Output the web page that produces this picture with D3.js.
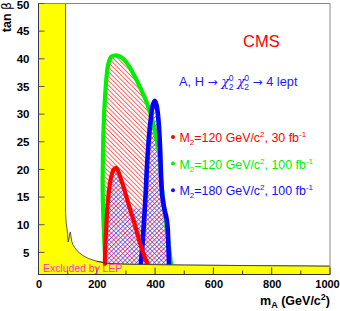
<!DOCTYPE html>
<html><head><meta charset="utf-8">
<script src="https://cdn.jsdelivr.net/npm/d3@7"></script>
<style>
html,body{margin:0;padding:0;background:#fff;}
svg{display:block;font-family:"Liberation Sans",Arial,Helvetica,sans-serif;}
</style></head>
<body>
<script>
// ---- data ----
const xTicks = [0, 200, 400, 600, 800, 1000];
const xMinorTicks = [100, 300, 500, 700, 900];
const yTicks = [5, 10, 15, 20, 25, 30, 35, 40, 45, 50];
// LEP excluded region boundary [mA, tanb]
const lepBoundary = [[93,50],[93,12],[95,10.4],[98,9.2],[100,8.3],[102,6.9],[104,7.3],[107,8.4],[109,8.7],[111,8.1],[114,7.0],[118,6.4],[125,5.8],[136,5.1],[150,4.5],[171,3.9],[200,3.4],[238,3.0],[300,2.85],[500,2.7],[1000,2.5]];
// M2=120, 100 fb-1 (green)
const green100 = [[229,2.6],[229,3.5],[225,8],[221,14],[220,18],[221,22],[223,27],[227,32],[233,36.5],[240,39.2],[250,40.4],[262,40.6],[275,40.5],[291,40.0],[308,38.9],[325,37.3],[340,35.8],[354,34.2],[367,32.7],[377,31.2],[388,29.4],[396,27.7],[405,25.4],[411,23.8],[417,21.2],[422,17.5],[428,14.5],[435,11.5],[442,8.5],[449,5.5],[454,3.2],[457,2.6]];
// M2=120, 30 fb-1 (red)
const red30 = [[228,2.6],[228,4],[230,7],[233,10],[237,13.5],[242,16.2],[250,18.8],[258,20],[266,20.3],[274,19.6],[283,18.2],[293,16.6],[302,15],[313,13],[325,11],[337,8.8],[348,6.7],[360,4.8],[370,3.4],[377,2.6]];
// M2=180, 100 fb-1 (blue)
const blue100 = [[350,2.6],[352,3.5],[357,6.6],[363,11.5],[368,16],[371,19.5],[375,23],[380,26.5],[386,29.5],[392,31.6],[399,32.4],[405,31.6],[410,29.8],[414,27],[417,24],[419,21],[421,18],[425,15],[432,12.8],[439,11.2],[443,9.5],[445,7],[447,4],[448,2.6]];
// region with second hatch (union of red and blue areas)
const crossRegion = [[228,2.6],[228,4],[230,7],[233,10],[237,13.5],[242,16.2],[250,18.8],[258,20],[266,20.3],[274,19.6],[283,18.2],[293,16.6],[302,15],[313,13],[340,13],[365,13],[368,16],[371,19.5],[375,23],[380,26.5],[386,29.5],[392,31.6],[399,32.4],[405,31.6],[410,29.8],[414,27],[417,24],[419,21],[421,18],[425,15],[432,12.8],[439,11.2],[443,9.5],[445,7],[447,4],[448,2.6]];
const legendLabels = [
  {m: "120", lumi: "30", color: "#ff0000"},
  {m: "120", lumi: "100", color: "#00ee00"},
  {m: "180", lumi: "100", color: "#1010ff"}
];

// ---- layout ----
const W = 340, H = 311;
const x = d3.scaleLinear().domain([0, 1000]).range([38.5, 330]);
const y = d3.scaleLinear().domain([1, 50]).range([274.5, 3.5]);

const svg = d3.select("body").append("svg").attr("width", W).attr("height", H);
const defs = svg.append("defs");
defs.append("clipPath").attr("id", "plotclip").append("rect")
  .attr("x", x(0)).attr("y", y(50)).attr("width", x(1000) - x(0)).attr("height", y(1) - y(50));

function hatch(id, color, angle) {
  const p = defs.append("pattern").attr("id", id).attr("patternUnits", "userSpaceOnUse")
    .attr("width", 3.2).attr("height", 3.2).attr("patternTransform", `rotate(${angle})`);
  p.append("line").attr("x1", 0.5).attr("y1", -1).attr("x2", 0.5).attr("y2", 5)
    .attr("stroke", color).attr("stroke-width", 0.7);
}
hatch("hRed", "#ff2020", -45);
hatch("hBlue", "#3030ff", 45);

const line = d3.line().x(d => x(d[0])).y(d => y(d[1])).curve(d3.curveCatmullRom.alpha(0.5));
const lin = d3.line().x(d => x(d[0])).y(d => y(d[1])).curve(d3.curveLinear);

const g = svg.append("g").attr("clip-path", "url(#plotclip)");

// LEP region
const lepPoly = [[0, 50], ...lepBoundary, [1000, 1], [0, 1]];
g.append("path").attr("d", lin(lepPoly)).attr("fill", "#ffff00").attr("stroke", "none");
g.append("path").attr("d", lin(lepBoundary))
  .attr("fill", "none").attr("stroke", "#333").attr("stroke-width", 0.8);

// hatches
g.append("path").attr("d", line(green100) + "Z").attr("fill", "url(#hRed)");
g.append("path").attr("d", line(crossRegion) + "Z").attr("fill", "url(#hBlue)");

// contour lines
g.append("path").attr("d", line(green100)).attr("fill", "none").attr("stroke", "#00ee00").attr("stroke-width", 4.2).attr("stroke-linejoin", "round");
g.append("path").attr("d", line(blue100)).attr("fill", "none").attr("stroke", "#0000ff").attr("stroke-width", 4.6).attr("stroke-linejoin", "round");
g.append("path").attr("d", line(red30)).attr("fill", "none").attr("stroke", "#ff0000").attr("stroke-width", 4.2).attr("stroke-linejoin", "round");

// redraw bottom band over contour ends
const band = [[238,3.0],[300,2.85],[500,2.7],[1000,2.5],[1000,1],[200,1]];
g.append("path").attr("d", lin(band)).attr("fill", "#ffff00");
g.append("path").attr("d", lin(lepBoundary.filter(d => d[0] >= 200)))
  .attr("fill", "none").attr("stroke", "#333").attr("stroke-width", 0.8);

// frame
svg.append("rect").attr("x", x(0)).attr("y", y(50)).attr("width", x(1000) - x(0)).attr("height", y(1) - y(50))
  .attr("fill", "none").attr("stroke", "#888").attr("stroke-width", 1);
svg.append("line").attr("x1", x(0)).attr("x2", x(0)).attr("y1", y(50)).attr("y2", y(1)).attr("stroke", "#333366").attr("stroke-width", 1);
svg.append("line").attr("x1", x(0)).attr("x2", x(1000)).attr("y1", y(1)).attr("y2", y(1)).attr("stroke", "#333").attr("stroke-width", 1);

// axes
const xAxis = d3.axisBottom(x).tickValues(xTicks).tickSize(0).tickPadding(6).tickFormat(d3.format("d"));
const xa = svg.append("g").attr("transform", `translate(0,${y(1)})`).call(xAxis);
xa.select(".domain").remove();
xa.selectAll("text").attr("font-size", 11).attr("font-weight", "bold").attr("fill", "#000").attr("font-family", "Liberation Sans, Arial, sans-serif")
  .attr("dx", d => d === 1000 ? -3 : 0);
svg.append("g").selectAll("line").data(xTicks.concat(xMinorTicks)).join("line")
  .attr("x1", d => x(d)).attr("x2", d => x(d)).attr("y1", y(1))
  .attr("y2", d => y(1) - (xTicks.includes(d) ? 7 : 4)).attr("stroke", "#333").attr("stroke-width", 1);

const yAxis = d3.axisLeft(y).tickValues(yTicks).tickSize(0).tickPadding(9).tickFormat(d3.format("d"));
const ya = svg.append("g").attr("transform", `translate(${x(0)},0)`).call(yAxis);
ya.select(".domain").remove();
ya.selectAll("text").attr("font-size", 11.5).attr("font-weight", "bold").attr("fill", "#000").attr("font-family", "Liberation Sans, Arial, sans-serif")
  .attr("y", d => d === 50 ? 1.5 : 0);
svg.append("g").selectAll("line").data(yTicks).join("line")
  .attr("x1", x(0)).attr("x2", x(0) + 6).attr("y1", d => y(d)).attr("y2", d => y(d))
  .attr("stroke", "#555").attr("stroke-width", 1);

// axis titles
const yt = svg.append("text").attr("transform", "translate(11,2) rotate(-90)").attr("text-anchor", "end")
  .attr("font-size", 12.5).attr("font-weight", "bold");
yt.append("tspan").text("tan ");
yt.append("tspan").attr("font-family", "DejaVu Sans").attr("font-weight", "normal").text("β");

const xt = svg.append("text").attr("x", 330).attr("y", 305).attr("text-anchor", "end").attr("font-size", 12.5).attr("font-weight", "bold");
xt.append("tspan").text("m");
xt.append("tspan").attr("font-size", 9).attr("dy", 3).text("A");
xt.append("tspan").attr("dy", -3).text(" (GeV/c");
xt.append("tspan").attr("font-size", 9).attr("dy", -5).text("2");
xt.append("tspan").attr("dy", 5).text(")");

// labels
svg.append("text").attr("x", 243).attr("y", 47).attr("font-size", 16.5).attr("fill", "#ff0000").text("CMS");

const pr = svg.append("text").attr("x", 179).attr("y", 86).attr("font-size", 12.8).attr("fill", "#1a1aff");
pr.append("tspan").text("A, H ");
pr.append("tspan").attr("font-family", "DejaVu Sans").attr("font-size", 12).text("→ ");
pr.append("tspan").attr("font-family", "DejaVu Serif").attr("font-style", "italic").attr("font-size", 13).text("χ");
pr.append("tspan").attr("font-size", 8.5).attr("dx", -0.5).attr("dy", -5.5).text("0");
pr.append("tspan").attr("font-size", 8.5).attr("dx", -4.8).attr("dy", 9).text("2");
pr.append("tspan").attr("dy", -3.5).text(" ");
pr.append("tspan").attr("font-family", "DejaVu Serif").attr("font-style", "italic").attr("font-size", 13).text("χ");
pr.append("tspan").attr("font-size", 8.5).attr("dx", -0.5).attr("dy", -5.5).text("0");
pr.append("tspan").attr("font-size", 8.5).attr("dx", -4.8).attr("dy", 9).text("2");
pr.append("tspan").attr("dy", -3.5).text(" ");
pr.append("tspan").attr("font-family", "DejaVu Sans").attr("font-size", 12).text("→");
pr.append("tspan").text(" 4 lept");

legendLabels.forEach((l, i) => {
  const yy = 137 + i * 26.6;
  svg.append("circle").attr("cx", 173).attr("cy", yy).attr("r", 2).attr("fill", l.color);
  const t = svg.append("text").attr("x", 179.5).attr("y", yy + 5).attr("font-size", 12.4).attr("fill", l.color);
  t.append("tspan").text("M");
  t.append("tspan").attr("font-size", 8).attr("dy", 3).text("2");
  t.append("tspan").attr("dy", -3).text(`=${l.m} GeV/c`);
  t.append("tspan").attr("font-size", 8).attr("dy", -5).text("2");
  t.append("tspan").attr("dy", 5).text(`, ${l.lumi} fb`);
  t.append("tspan").attr("font-size", 8).attr("dy", -5).text("-1");
});

svg.append("text").attr("x", 43).attr("y", 272).attr("font-size", 10.4).attr("fill", "#ff33cc").text("Excluded by LEP");
</script>
</body></html>
